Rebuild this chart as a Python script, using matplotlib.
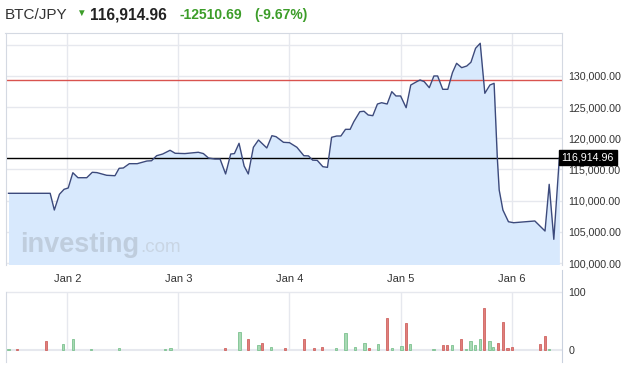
import matplotlib
matplotlib.use("Agg")
import matplotlib.pyplot as plt

plt.rcParams["font.family"] = ["Liberation Sans", "DejaVu Sans"]

# ── data (hours since Jan 1 00:00) ─────────────────────────────
price_hours = [11.3, 20.3, 21.2, 22.3, 23.3, 24.2, 25.2, 26.3, 28.2, 29.4, 30.4, 32.5,
               34.3, 35.2, 36.1, 37.4, 39.1, 41.2, 42.2, 43.3, 44.6, 46.2, 47.3, 49.4,
               52.3, 53.4, 54.5, 55.9, 57.0, 58.2, 59.3, 60.1, 61.1, 62.2, 63.1, 64.2,
               65.3, 67.1, 68.2, 69.1, 70.7, 72.0, 73.6, 75.1, 76.1, 77.0, 78.0, 79.2,
               80.2, 81.1, 82.2, 83.1, 84.1, 85.1, 85.9, 87.2, 88.1, 89.0, 90.0, 91.0,
               91.9, 93.1, 94.1, 95.0, 96.0, 97.2, 98.2, 99.5, 100.2, 101.1, 102.2, 103.2,
               104.0, 105.1, 106.2, 107.2, 108.1, 109.2, 110.3, 111.2, 112.2, 113.2, 114.2,
               115.3, 116.2, 116.9, 117.3, 118.1, 119.3, 120.4, 125.0, 127.2, 128.1, 129.1,
               130.3]
prices = [111180, 111180, 108500, 111020, 111820, 112030, 114480, 113680, 113680, 114550,
          114500, 114070, 114000, 115190, 115240, 115930, 115930, 116360, 116400, 117210,
          117480, 118080, 117600, 117550, 117760, 117550, 116840, 116680, 116680, 114280,
          117480, 117550, 119200, 115560, 114280, 118560, 119730, 118450, 120420, 120260,
          119360, 119300, 118560, 117210, 117180, 116500, 116460, 115450, 115340, 120160,
          120370, 120370, 121440, 121440, 122670, 124270, 124340, 123740, 123630, 125500,
          125710, 125500, 127480, 126790, 126790, 124910, 128550, 129090, 129360, 129090,
          128120, 130000, 130000, 127860, 127860, 130530, 132030, 131330, 131600, 132200,
          134440, 135240, 127220, 128550, 128820, 116790, 111710, 108500, 106620, 106460,
          106740, 105130, 112620, 103800, 116914.96]

vol_hours = [11.3, 13.2, 19.3, 23.1, 25.3, 29.2, 35.2, 45.2, 46.3,
             58.1, 61.2, 63.1, 65.3, 66.1, 68.1, 71.1,
             75.2, 77.2, 79.1, 82.1, 84.1, 86.2, 88.2, 89.2, 91.2, 93.1, 94.2, 96.2, 97.2, 98.1,
             103.1, 105.2, 106.1, 107.2, 109.1, 110.2, 111.1, 112.1, 113.2, 114.1, 115.2,
             116.0, 117.1, 118.2, 119.1, 120.1,
             126.2, 127.1, 128.1]
volumes = [2, 2, 15.5, 10, 19, 2, 3.5, 2, 3.5,
           3.5, 31, 19, 8.6, 12, 5, 3.5,
           19, 3.5, 5, 3.5, 29, 5, 12, 3.5, 10, 55, 3.5, 7, 46.5, 10,
           2, 8.6, 8.6, 8.6, 19, 2, 15.5, 8.6, 19, 72, 15.5, 5, 12, 48, 3.5, 5,
           10, 24, 2]
vol_dir = "grrgggggg" + "rgrgrgr" + "rrrggggrgrggrg" + "grrgrggggrggrrrr" + "rrg"

day_hours = [24, 48, 72, 96, 120]
day_labels = ["Jan 2", "Jan 3", "Jan 4", "Jan 5", "Jan 6"]
price_ticks = [100000, 105000, 110000, 115000, 120000, 125000, 130000, 135000]
last_price = 116914.96
red_level = 129320

W, H = 625, 368
GRID = "#e6e8ee"
TXT = "#333333"

fig = plt.figure(figsize=(W / 100, H / 100), dpi=100)

def px_axes(x0, y0, x1, y1):
    return fig.add_axes([x0 / W, 1 - y1 / H, (x1 - x0) / W, (y1 - y0) / H])

# ── volume pane (added first so the price pane's date labels stay on top) ──
xlim = (10.65, 130.76)
vax = px_axes(5.5, 270, 561.5, 362)
vax.patch.set_visible(False)
vax.set_xlim(*xlim)
vax.set_ylim(-20.7, 137.9)
vax.axhline(100, color=GRID, lw=1, zorder=0)
vax.axhline(0, color=GRID, lw=1.5, zorder=0)
vax.vlines(day_hours, 0, 100, color=GRID, lw=1, zorder=0)
face = {"g": "#a8d9b4", "r": "#e07f7c"}
edge = {"g": "#7cc290", "r": "#cf6460"}
vax.bar(vol_hours, volumes, width=0.45,
        color=[face[c] for c in vol_dir], edgecolor=[edge[c] for c in vol_dir],
        lw=0.6, zorder=2)
vax.set_xticks([])
vax.yaxis.tick_right()
vax.set_yticks([0, 100])
vax.set_yticklabels(["0", "100"], fontsize=7.7, color=TXT)
vax.tick_params(axis="y", length=0, pad=5)
for s in ["top", "bottom"]:
    vax.spines[s].set_visible(False)
vax.spines["left"].set_bounds(-20.7, 100)
vax.spines["left"].set_color("#d4d9e2")
vax.spines["right"].set_color("#c9d1de")

# ── price pane ─────────────────────────────────────────────────
ax = px_axes(5.5, 32.7, 561.5, 264.5)
ylim = (99760, 136940)
ax.set_xlim(*xlim)
ax.set_ylim(*ylim)

for t in price_ticks:
    ax.axhline(t, color=GRID, lw=1, zorder=0)
for d in day_hours:
    ax.axvline(d, color=GRID, lw=1, zorder=0)

ax.fill_between(price_hours, prices, ylim[0], color="#d8e9fd", lw=0, zorder=1)
ax.plot(price_hours, prices, color="#3c4a7c", lw=1, zorder=3)
ax.axhline(red_level, color="#d9534f", lw=1, zorder=2)
ax.axhline(last_price, color="black", lw=1, zorder=2)

ax.set_xticks(day_hours)
ax.set_xticklabels(day_labels, fontsize=8, color=TXT)
ax.tick_params(axis="x", length=0, pad=7)
ax.yaxis.tick_right()
ax.set_yticks(price_ticks)
ax.set_yticklabels([f"{t:,.2f}" if t < 135000 else "" for t in price_ticks],
                   fontsize=7.7, color=TXT)
ax.tick_params(axis="y", length=0, pad=5)
ax.spines["bottom"].set_visible(False)
for s in ["left", "top", "right"]:
    ax.spines[s].set_color("#d4d9e2")

ax.text(1.0, last_price, f"{last_price:,.2f}", transform=ax.get_yaxis_transform(),
        ha="left", va="center", fontsize=7.7, color="white", zorder=10,
        bbox=dict(boxstyle="square,pad=0.25", fc="black", ec="black"), clip_on=False)

# watermark
fig.text(20 / W, 1 - 251.7 / H, "investing", fontsize=19.5, fontweight="bold",
         color="#b9c6d6", alpha=0.8, va="baseline")
fig.text(140 / W, 1 - 251.7 / H, ".com", fontsize=13.5, color="#c5d0dd",
         alpha=0.8, va="baseline")

# ── header ─────────────────────────────────────────────────────
base = 1 - 19.3 / H
fig.text(5 / W, base, "BTC/JPY", fontsize=11, color=TXT, va="baseline")
fig.text(76 / W, base + 0.008, "▼", fontsize=7, color="#3c9d29", va="baseline")
fig.text(90 / W, base, "116,914.96", fontsize=11.2, fontweight="bold", color="#222222",
         va="baseline")
fig.text(179 / W, base, "-12510.69", fontsize=10, fontweight="bold", color="#3c9d29",
         va="baseline")
fig.text(254 / W, base, "(-9.67%)", fontsize=10, fontweight="bold", color="#3c9d29",
         va="baseline")

fig.savefig("out.png", dpi=100)
